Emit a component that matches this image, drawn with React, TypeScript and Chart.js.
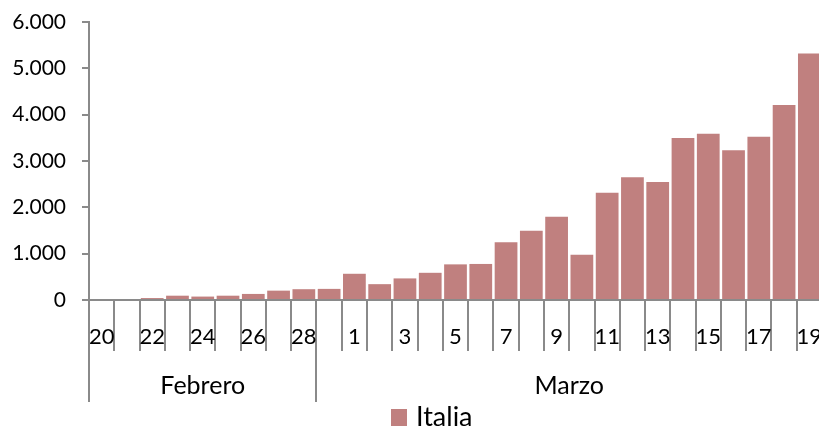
import React, { useEffect, useRef } from "react";
import { Chart, registerables } from "chart.js";

Chart.register(...registerables);

const days: string[] = [
  "20", "21", "22", "23", "24", "25", "26", "27", "28", "29",
  "1", "2", "3", "4", "5", "6", "7", "8", "9", "10",
  "11", "12", "13", "14", "15", "16", "17", "18", "19",
];
const italia: number[] = [
  0, 0, 42, 93, 74, 93, 131, 202, 233, 240,
  566, 342, 466, 587, 769, 778, 1247, 1492, 1797, 977,
  2313, 2651, 2547, 3497, 3590, 3233, 3526, 4207, 5322,
];
const groupLabels: string[] = ["Febrero", "Marzo"];
const groupSizes: number[] = [9, 20];
const seriesName = "Italia";

const AXIS = "#8A8A8A";
const BAR = "#C0807F";
const FONT = "Lato, 'Open Sans', sans-serif";

const fmt = (v: number) => String(v).replace(/\B(?=(\d{3})+(?!\d))/g, ".");

const axisPlugin = {
  id: "customXAxis",
  afterDraw(chart: any) {
    const { ctx, chartArea } = chart;
    const xs = chart.scales.x;
    const n = days.length;
    const w = (chartArea.right - chartArea.left) / n;
    const bottom = Math.round(chartArea.bottom);
    ctx.save();
    ctx.strokeStyle = AXIS;
    ctx.lineWidth = 2;
    // axis line
    ctx.beginPath();
    ctx.moveTo(chartArea.left - 1, bottom);
    ctx.lineTo(chartArea.right + 5, bottom);
    ctx.stroke();
    // category boundary lines
    for (let i = 0; i <= n; i++) {
      const x = Math.round(xs.getPixelForValue(i) - w / 2);
      ctx.beginPath();
      ctx.moveTo(x, bottom);
      ctx.lineTo(x, bottom + 51);
      ctx.stroke();
    }
    // group boundary lines
    let start = 0;
    const bounds: number[] = [0];
    groupSizes.forEach((s) => {
      start += s;
      bounds.push(start);
    });
    bounds.forEach((b) => {
      const x = Math.round(xs.getPixelForValue(b) - w / 2);
      ctx.beginPath();
      ctx.moveTo(x, bottom);
      ctx.lineTo(x, bottom + 102);
      ctx.stroke();
    });
    // day labels
    ctx.fillStyle = "#000";
    ctx.textAlign = "center";
    ctx.textBaseline = "middle";
    ctx.font = `22px ${FONT}`;
    days.forEach((d, i) => {
      if (i % 2 === 0) ctx.fillText(d, xs.getPixelForValue(i), chartArea.bottom + 37);
    });
    // group labels
    ctx.font = `25px ${FONT}`;
    groupLabels.forEach((g, gi) => {
      const a = xs.getPixelForValue(bounds[gi]) - w / 2;
      const b = xs.getPixelForValue(bounds[gi + 1]) - w / 2;
      ctx.fillText(g, (a + b) / 2, chartArea.bottom + 86);
    });
    // legend
    ctx.fillStyle = BAR;
    ctx.fillRect(391, 409, 16, 17);
    ctx.fillStyle = "#000";
    ctx.textAlign = "left";
    ctx.textBaseline = "alphabetic";
    ctx.font = `27px ${FONT}`;
    ctx.fillText(seriesName, 416, 426);
    ctx.restore();
  },
};

export default function App() {
  const ref = useRef<HTMLCanvasElement | null>(null);
  useEffect(() => {
    document.body.style.margin = "0";
    const canvas = ref.current!;
    const chart = new Chart(canvas, {
      type: "bar",
      data: {
        labels: days,
        datasets: [
          {
            label: seriesName,
            data: italia,
            backgroundColor: BAR,
            borderWidth: 0,
            categoryPercentage: 0.9,
            barPercentage: 1,
          },
        ],
      },
      options: {
        animation: false,
        responsive: false,
        devicePixelRatio: 1,
        layout: { padding: { top: 22, bottom: 126, left: 0, right: 0 } },
        plugins: { legend: { display: false }, tooltip: { enabled: false } },
        scales: {
          x: { display: false, offset: true },
          y: {
            min: 0,
            max: 6000,
            afterFit: (s: any) => {
              s.width = 89;
              s.paddingTop = 0;
              s.paddingBottom = 0;
            },
            ticks: {
              stepSize: 1000,
              color: "#000",
              padding: 16,
              font: { family: FONT, size: 21 },
              callback: (v: any) => fmt(Number(v)),
            },
            grid: {
              drawOnChartArea: false,
              drawTicks: true,
              tickLength: 7,
              color: AXIS,
              lineWidth: 2,
            },
            border: { color: AXIS, width: 2 },
          },
        },
      },
      plugins: [axisPlugin],
    });
    return () => chart.destroy();
  }, []);
  return (
    <div style={{ position: "absolute", left: 0, top: 0, width: 819, height: 426, overflow: "hidden", background: "#fff" }}>
      <canvas ref={ref} width={822} height={426} style={{ display: "block", width: 822, height: 426 }} />
    </div>
  );
}
